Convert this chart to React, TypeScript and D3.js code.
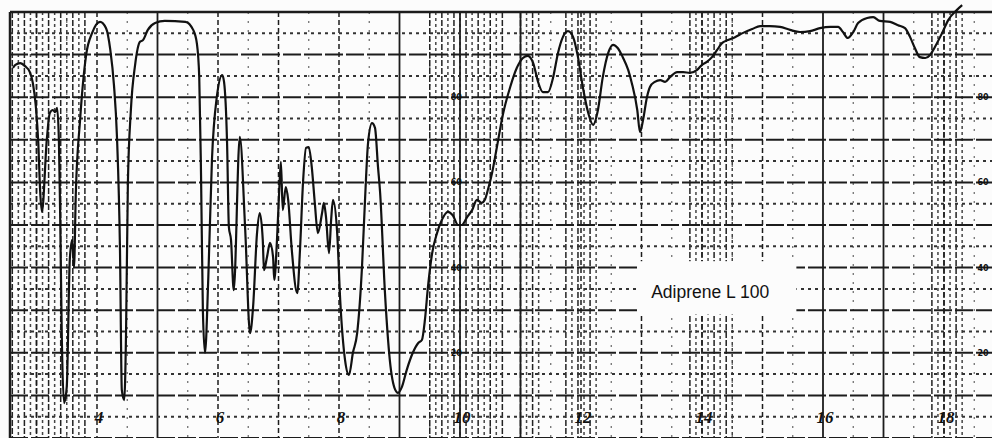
import * as d3 from 'd3';
import { useEffect, useRef } from 'react';

// wavelength in microns
const wavelength = [
  2.61, 2.65, 2.73, 2.81, 2.89, 2.94, 2.99, 3.03, 3.06, 3.09,
  3.17, 3.22, 3.27, 3.31, 3.34, 3.37, 3.39, 3.42, 3.455, 3.5,
  3.55, 3.59, 3.62, 3.65, 3.72, 3.82, 3.92, 4.05, 4.15, 4.22,
  4.28, 4.33, 4.38, 4.41, 4.45, 4.48, 4.51, 4.56, 4.63, 4.71,
  4.76, 4.84, 4.96, 5.12, 5.46, 5.59, 5.65, 5.69, 5.72, 5.75,
  5.785, 5.84, 5.9, 5.98, 6.07, 6.1, 6.15, 6.18, 6.215, 6.26,
  6.36, 6.45, 6.53, 6.58, 6.645, 6.69, 6.74, 6.76, 6.81, 6.86,
  6.91, 6.93, 6.975, 7.01, 7.04, 7.07, 7.12, 7.16, 7.22, 7.31,
  7.355, 7.405, 7.455, 7.5, 7.55, 7.6, 7.65, 7.72, 7.75, 7.785,
  7.835, 7.87, 7.9, 7.97, 8.02, 8.1, 8.165, 8.23, 8.3, 8.38,
  8.43, 8.48, 8.545, 8.595, 8.645, 8.68, 8.76, 8.84, 8.93, 8.975,
  9.04, 9.12, 9.22, 9.31, 9.37, 9.42, 9.47, 9.54, 9.62, 9.7,
  9.8, 9.88, 9.97, 10.03, 10.12, 10.2, 10.28, 10.36, 10.41, 10.46,
  10.53, 10.61, 10.71, 10.83, 10.94, 11.04, 11.12, 11.21, 11.29, 11.37,
  11.455, 11.54, 11.62, 11.7, 11.785, 11.87, 11.95, 12.03, 12.12, 12.2,
  12.28, 12.36, 12.45, 12.53, 12.61, 12.69, 12.78, 12.84, 12.93, 12.975,
  13.025, 13.09, 13.14, 13.22, 13.31, 13.39, 13.47, 13.59, 13.69, 13.8,
  13.92, 14.0, 14.08, 14.165, 14.25, 14.33, 14.43, 14.545, 14.68, 14.83,
  14.96, 15.12, 15.29, 15.455, 15.62, 15.785, 15.95, 16.12, 16.25, 16.33,
  16.41, 16.5, 16.58, 16.73, 16.83, 16.94, 17.11, 17.24, 17.355, 17.44,
  17.52, 17.6, 17.69, 17.77, 17.85, 17.97, 18.07, 18.215, 18.3,
];

// percent transmittance at each wavelength
const transmittance = [
  86.9, 87.6, 88.0, 87.3, 85.9, 83.3, 77.7, 69.2, 58.0, 53.1,
  70.0, 76.3, 77.0, 76.5, 77.5, 70.0, 53.5, 22.3, 8.2, 12.0,
  41.8, 46.5, 40.1, 57.5, 74.6, 89.9, 95.1, 97.7, 96.2, 91.1,
  82.9, 70.7, 44.1, 11.3, 8.9, 24.6, 59.4, 77.0, 87.6, 93.0,
  93.4, 95.8, 97.4, 97.9, 97.7, 95.8, 92.7, 84.7, 61.3, 30.0,
  20.0, 37.8, 65.3, 80.0, 85.2, 83.6, 69.2, 49.5, 46.5, 34.7,
  70.7, 48.8, 24.6, 30.8, 48.1, 52.8, 46.5, 39.4, 42.5, 45.8,
  42.5, 37.1, 46.5, 57.5, 64.8, 53.5, 58.9, 55.9, 44.1, 34.0,
  44.1, 59.9, 68.1, 68.3, 63.6, 55.2, 48.1, 52.8, 55.2, 51.9,
  43.4, 51.2, 55.9, 48.1, 32.4, 18.3, 14.8, 20.0, 24.6, 40.1,
  55.9, 69.2, 73.9, 72.8, 63.6, 57.5, 34.0, 18.3, 11.3, 10.6,
  12.0, 16.0, 20.0, 22.3, 23.0, 27.7, 35.4, 43.4, 48.1, 51.2,
  53.1, 52.3, 50.0, 50.0, 51.9, 53.5, 55.9, 55.2, 55.9, 58.2,
  62.2, 68.3, 76.0, 82.4, 86.9, 89.2, 89.7, 88.0, 83.6, 81.2,
  81.2, 84.7, 90.4, 94.1, 95.5, 94.1, 89.4, 82.4, 76.3, 73.5,
  77.0, 84.7, 90.4, 92.3, 91.5, 89.4, 86.4, 83.3, 77.0, 71.8,
  74.6, 80.0, 82.4, 83.6, 84.0, 83.6, 84.7, 85.9, 85.9, 85.7,
  86.4, 87.6, 88.3, 89.4, 91.1, 92.7, 93.4, 94.1, 95.1, 96.0,
  96.7, 96.7, 96.5, 95.8, 95.3, 95.5, 96.2, 96.5, 96.5, 95.3,
  93.9, 95.3, 97.4, 98.6, 98.8, 97.9, 97.7, 96.9, 96.2, 94.1,
  91.5, 89.4, 89.2, 89.9, 91.8, 95.1, 98.1, 100.5, 101.6,
];

const micronTicks = ['4', '6', '8', '10', '12', '14', '16', '18'];
const percentMarks = [80, 60, 40, 20];
const solidMicrons = [5, 9, 10, 11, 16, 17];
// places where the chart paper's fine rulings print dark
const denseBands = [
  [2.6, 3.9], [9.5, 10.75], [11.0, 11.3], [11.75, 12.35], [13.8, 14.6], [17.8, 18.4],
];
const sampleName = 'Adiprene L 100';

export default function App() {
  const svgRef = useRef<SVGSVGElement>(null);

  useEffect(() => {
    const svg = d3.select(svgRef.current);
    svg.selectAll('*').remove();

    const width = 992;
    const height = 438;
    const left = 10;
    const ink = '#1c1c1c';

    const x = d3.scaleLinear().domain([4, 18]).range([97, 944]);
    const y = d3.scaleLinear().domain([0, 100]).range([438, 12]);

    svg.append('rect').attr('width', width).attr('height', height).attr('fill', '#fcfcfc');

    const grid = svg.append('g');

    // faint half-micron rulings
    d3.range(3, 18.8, 0.5).filter(m => m % 1 !== 0).forEach(m => {
      grid.append('line')
        .attr('x1', x(m)).attr('x2', x(m))
        .attr('y1', y(100)).attr('y2', height)
        .attr('stroke', '#666').attr('stroke-width', 1.2)
        .attr('stroke-dasharray', '2 7');
    });

    // dense fine rulings
    denseBands.forEach(([a, b]) => {
      d3.range(a, b, 0.1).forEach((m, i) => {
        grid.append('line')
          .attr('x1', x(m)).attr('x2', x(m))
          .attr('y1', y(100)).attr('y2', height)
          .attr('stroke', i % 2 ? '#444' : '#222')
          .attr('stroke-width', 1.5)
          .attr('stroke-dasharray', i % 2 ? '3 3' : '6 2');
      });
    });

    // integer micron lines
    d3.range(3, 19).forEach(m => {
      const solid = solidMicrons.includes(m);
      grid.append('line')
        .attr('x1', x(m)).attr('x2', x(m))
        .attr('y1', y(100)).attr('y2', height)
        .attr('stroke', ink)
        .attr('stroke-width', solid ? 1.8 : 1.5)
        .attr('stroke-dasharray', solid ? null : '5 3');
    });

    // horizontal transmittance lines
    d3.range(0, 100, 5).forEach(t => {
      const major = t % 10 === 0;
      grid.append('line')
        .attr('x1', left).attr('x2', width)
        .attr('y1', y(t)).attr('y2', y(t))
        .attr('stroke', major ? ink : '#333')
        .attr('stroke-width', 2)
        .attr('stroke-dasharray', major ? '18 3' : '3 4');
    });

    // frame
    grid.append('line')
      .attr('x1', left).attr('x2', width)
      .attr('y1', y(100)).attr('y2', y(100))
      .attr('stroke', ink).attr('stroke-width', 2.5);
    grid.append('line')
      .attr('x1', left).attr('x2', left)
      .attr('y1', y(100)).attr('y2', height)
      .attr('stroke', ink).attr('stroke-width', 2.5);

    // sample label
    svg.append('rect')
      .attr('x', x(12.975)).attr('y', y(41.5))
      .attr('width', x(15.56) - x(12.975)).attr('height', y(29) - y(41.5))
      .attr('fill', '#fcfcfc');
    svg.append('text')
      .attr('x', x(13.16)).attr('y', y(32.8))
      .attr('font-family', '"Liberation Sans", Arial, sans-serif')
      .attr('font-size', 17.5)
      .attr('fill', '#111')
      .text(sampleName);

    // small percent marks on the 10 micron line and the right edge
    [x(9.94), width - 9].forEach(px => {
      percentMarks.forEach(p => {
        svg.append('text')
          .attr('x', px).attr('y', y(p) + 3)
          .attr('text-anchor', 'middle')
          .attr('font-family', '"DejaVu Sans", sans-serif')
          .attr('font-size', 8).attr('font-weight', 'bold')
          .attr('fill', '#111')
          .text(p);
      });
    });

    // wavelength labels
    micronTicks.forEach(label => {
      svg.append('text')
        .attr('x', x(+label) + 2).attr('y', 423)
        .attr('text-anchor', 'middle')
        .attr('font-family', '"Liberation Serif", serif')
        .attr('font-style', 'italic').attr('font-weight', 'bold')
        .attr('font-size', 17)
        .attr('fill', '#111')
        .text(label);
    });

    // spectrum trace
    const line = d3.line<number>()
      .x((_, i) => x(wavelength[i]))
      .y(d => y(d))
      .curve(d3.curveMonotoneX);

    svg.append('path')
      .datum(transmittance)
      .attr('fill', 'none')
      .attr('stroke', '#111')
      .attr('stroke-width', 2.2)
      .attr('stroke-linejoin', 'round')
      .attr('d', line);
  }, []);

  return (
    <svg
      ref={svgRef}
      width={992}
      height={438}
      style={{ position: 'absolute', left: 0, top: 0, display: 'block' }}
    />
  );
}
